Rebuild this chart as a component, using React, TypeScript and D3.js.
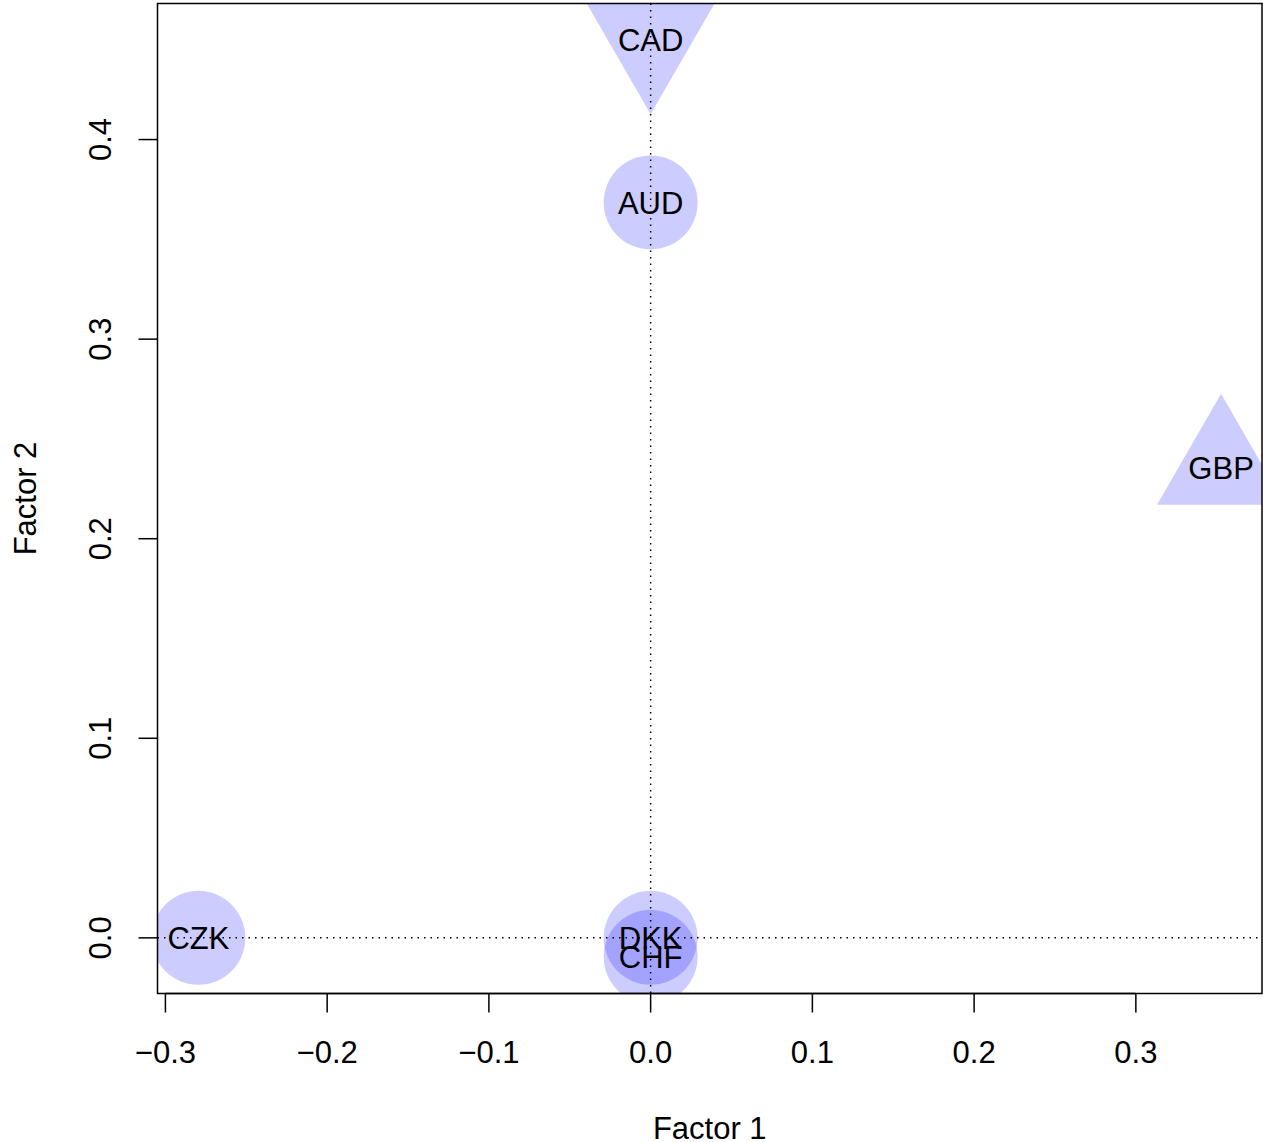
import React from "react";
import * as d3 from "d3";

const currencies = ["AUD", "CAD", "CHF", "CZK", "DKK", "GBP"];
const factor1 = [0, 0, 0, -0.2796, 0, 0.3527];
const factor2 = [0.3685, 0.4498, -0.0095, 0, 0, 0.2355];
const shapes = ["circle", "triangleDown", "circle", "circle", "circle", "triangleUp"];
const xTicks = [-0.3, -0.2, -0.1, 0.0, 0.1, 0.2, 0.3];
const yTicks = [0.0, 0.1, 0.2, 0.3, 0.4];

const W = 1263;
const H = 1142;
const L = 157.5, R = 1262, T = 3.5, B = 993.5;
const FONT = "'Liberation Sans', Arial, Helvetica, sans-serif";
const FS = 31;

function padExtent(vals: number[]): [number, number] {
  const [a, b] = d3.extent(vals) as [number, number];
  const d = (b - a) * 0.04;
  return [a - d, b + d];
}

export default function App() {
  const x = d3.scaleLinear().domain(padExtent(factor1)).range([L, R]);
  const y = d3.scaleLinear().domain(padExtent(factor2)).range([B, T]);
  const rCircle = 47;
  const triR = 74; // centroid to apex
  const triHalf = triR * Math.sqrt(3) / 2;
  const fmt = (v: number) => d3.format(".1f")(v).replace("-", "\u2212");

  const shapePath = (s: string, cx: number, cy: number) => {
    if (s === "triangleUp") {
      return `M${cx},${cy - triR}L${cx + triHalf},${cy + triR / 2}L${cx - triHalf},${cy + triR / 2}Z`;
    }
    return `M${cx},${cy + triR}L${cx + triHalf},${cy - triR / 2}L${cx - triHalf},${cy - triR / 2}Z`;
  };

  return (
    <svg width={W} height={H} style={{ position: "absolute", left: 0, top: 0, background: "#fff" }} fontFamily={FONT}>
      <defs>
        <clipPath id="plotclip">
          <rect x={L} y={T} width={R - L} height={B - T} />
        </clipPath>
      </defs>
      <rect x={0} y={0} width={W} height={H} fill="#fff" />
      <g clipPath="url(#plotclip)">
        {currencies.map((c, i) => {
          const cx = x(factor1[i]);
          const cy = y(factor2[i]);
          return shapes[i] === "circle" ? (
            <circle key={c} cx={cx} cy={cy} r={rCircle} fill="#0000ff" fillOpacity={0.2} />
          ) : (
            <path key={c} d={shapePath(shapes[i], cx, cy)} fill="#0000ff" fillOpacity={0.2} />
          );
        })}
        <line x1={x(0)} x2={x(0)} y1={T} y2={B} stroke="#000" strokeWidth={1.5} strokeDasharray="1.5 5" />
        <line x1={L} x2={R} y1={y(0)} y2={y(0)} stroke="#000" strokeWidth={1.5} strokeDasharray="1.5 5" />
        {currencies.map((c, i) => (
          <text key={c} x={x(factor1[i])} y={y(factor2[i])} dy="0.36em" textAnchor="middle" fontSize={FS} fill="#000">
            {c}
          </text>
        ))}
      </g>
      <rect x={L} y={T} width={R - L} height={B - T} fill="none" stroke="#000" strokeWidth={1.5} />
      {/* x axis */}
      <line x1={x(xTicks[0])} x2={x(xTicks[xTicks.length - 1])} y1={B} y2={B} stroke="#000" strokeWidth={1.5} />
      {xTicks.map((t) => (
        <g key={t}>
          <line x1={x(t)} x2={x(t)} y1={B} y2={B + 19} stroke="#000" strokeWidth={1.5} />
          <text x={x(t)} y={1052} dy="0.36em" textAnchor="middle" fontSize={FS} fill="#000">{fmt(t)}</text>
        </g>
      ))}
      {/* y axis */}
      {yTicks.map((t) => (
        <g key={t}>
          <line x1={L - 19} x2={L} y1={y(t)} y2={y(t)} stroke="#000" strokeWidth={1.5} />
          <text transform={`translate(100,${y(t)}) rotate(-90)`} dy="0.36em" textAnchor="middle" fontSize={FS} fill="#000">{fmt(t)}</text>
        </g>
      ))}
      <text x={(L + R) / 2} y={1128} dy="0.36em" textAnchor="middle" fontSize={FS} fill="#000">Factor 1</text>
      <text transform={`translate(25,${(T + B) / 2}) rotate(-90)`} dy="0.36em" textAnchor="middle" fontSize={FS} fill="#000">Factor 2</text>
    </svg>
  );
}
